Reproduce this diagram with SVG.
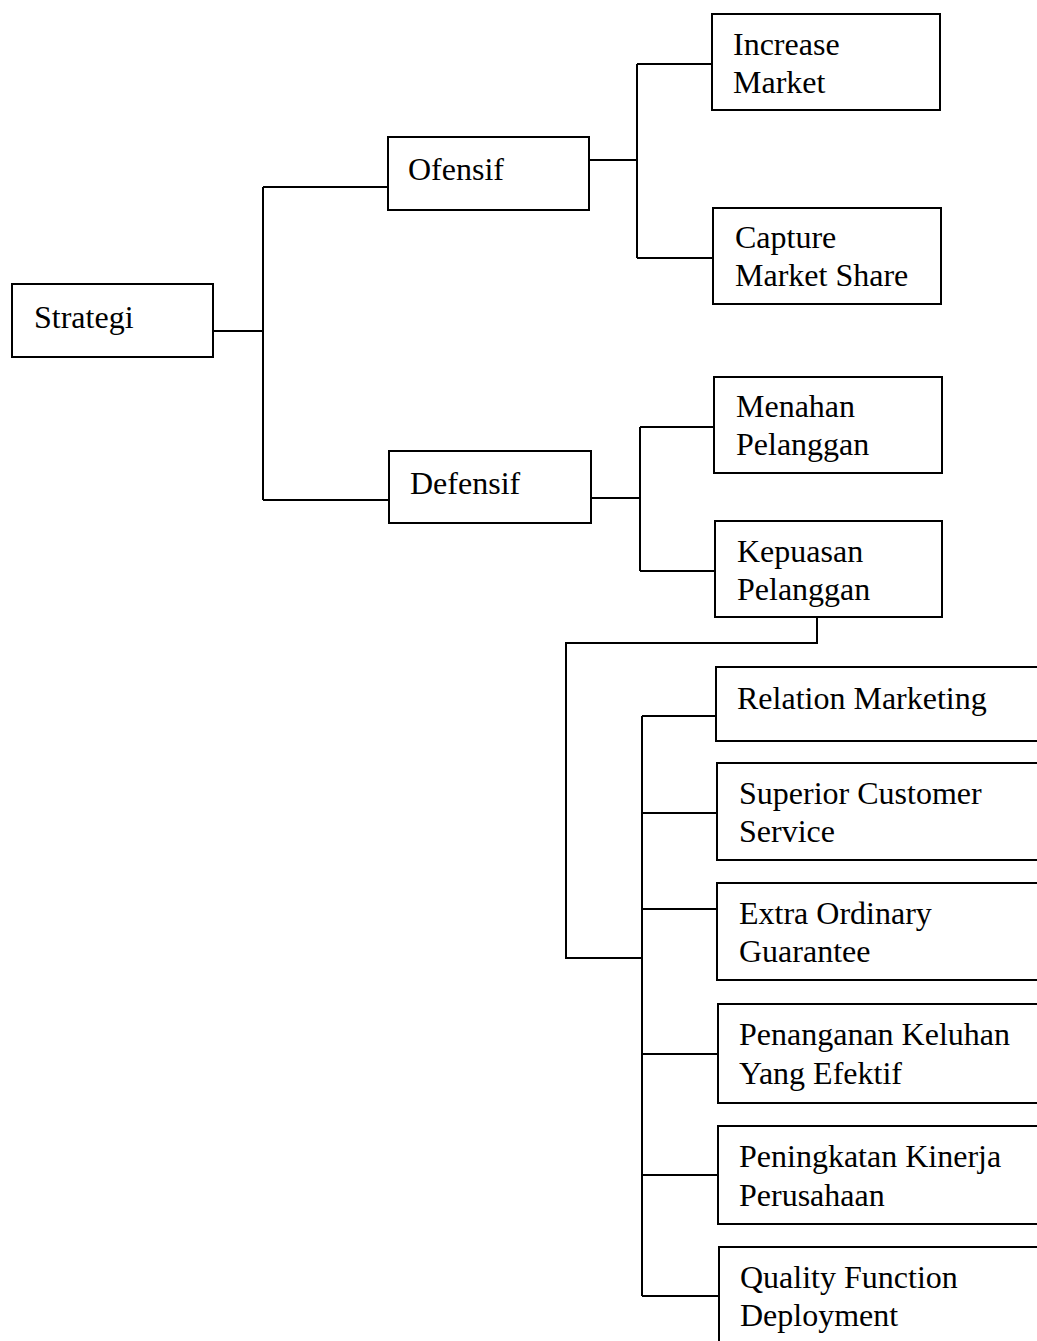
<svg xmlns="http://www.w3.org/2000/svg" width="1037" height="1341" viewBox="0 0 1037 1341">
  <style>
    .box { fill: #ffffff; stroke: #000000; stroke-width: 2; }
    .wire { fill: none; stroke: #000000; stroke-width: 2; }
    .label { font-family: 'Liberation Serif', 'DejaVu Serif', 'Times New Roman', Times, serif; font-size: 32px; fill: #000000; }
  </style>
  <rect x="0" y="0" width="1037" height="1341" fill="#ffffff"/>

  <!-- connectors -->
  <g id="connectors">
    <path class="wire" d="M213 331 H263 M263 187 V500 M263 187 H388 M263 500 H389"/>
    <path class="wire" d="M589 160 H637 M637 64 V258 M637 64 H712 M637 258 H713"/>
    <path class="wire" d="M591 498 H640 M640 427 V571 M640 427 H714 M640 571 H715"/>
    <path class="wire" d="M817 617 V643 H566 V958 H642"/>
    <path class="wire" d="M642 716 V1296 M642 716 H716 M642 813 H717 M642 909 H717 M642 1054 H718 M642 1175 H718 M642 1296 H719"/>
  </g>

  <g id="strategi">
    <rect class="box" x="12" y="284" width="201" height="73"/>
    <text class="label" x="34" y="328" font-family="Liberation Serif, serif">Strategi</text>
  </g>
  <g id="ofensif">
    <rect class="box" x="388" y="137" width="201" height="73"/>
    <text class="label" x="408" y="180">Ofensif</text>
  </g>
  <g id="defensif">
    <rect class="box" x="389" y="451" width="202" height="72"/>
    <text class="label" x="410" y="494">Defensif</text>
  </g>
  <g id="increase-market">
    <rect class="box" x="712" y="14" width="228" height="96"/>
    <text class="label" x="733" y="55">Increase</text>
    <text class="label" x="733" y="93">Market</text>
  </g>
  <g id="capture-market-share">
    <rect class="box" x="713" y="208" width="228" height="96"/>
    <text class="label" x="735" y="248">Capture</text>
    <text class="label" x="735" y="286">Market Share</text>
  </g>
  <g id="menahan-pelanggan">
    <rect class="box" x="714" y="377" width="228" height="96"/>
    <text class="label" x="736" y="417">Menahan</text>
    <text class="label" x="736" y="455">Pelanggan</text>
  </g>
  <g id="kepuasan-pelanggan">
    <rect class="box" x="715" y="521" width="227" height="96"/>
    <text class="label" x="737" y="562">Kepuasan</text>
    <text class="label" x="737" y="600">Pelanggan</text>
  </g>
  <g id="relation-marketing">
    <rect class="box" x="716" y="667" width="340" height="74"/>
    <text class="label" x="737" y="709">Relation Marketing</text>
  </g>
  <g id="superior-customer-service">
    <rect class="box" x="717" y="763" width="340" height="97"/>
    <text class="label" x="739" y="804">Superior Customer</text>
    <text class="label" x="739" y="842">Service</text>
  </g>
  <g id="extra-ordinary-guarantee">
    <rect class="box" x="717" y="883" width="340" height="97"/>
    <text class="label" x="739" y="924">Extra Ordinary</text>
    <text class="label" x="739" y="962">Guarantee</text>
  </g>
  <g id="penanganan-keluhan">
    <rect class="box" x="718" y="1004" width="340" height="99"/>
    <text class="label" x="739" y="1045">Penanganan Keluhan</text>
    <text class="label" x="739" y="1084">Yang Efektif</text>
  </g>
  <g id="peningkatan-kinerja">
    <rect class="box" x="718" y="1126" width="340" height="98"/>
    <text class="label" x="739" y="1167">Peningkatan Kinerja</text>
    <text class="label" x="739" y="1206">Perusahaan</text>
  </g>
  <g id="quality-function-deployment">
    <rect class="box" x="719" y="1247" width="340" height="120"/>
    <text class="label" x="740" y="1288">Quality Function</text>
    <text class="label" x="740" y="1326">Deployment</text>
  </g>
</svg>
